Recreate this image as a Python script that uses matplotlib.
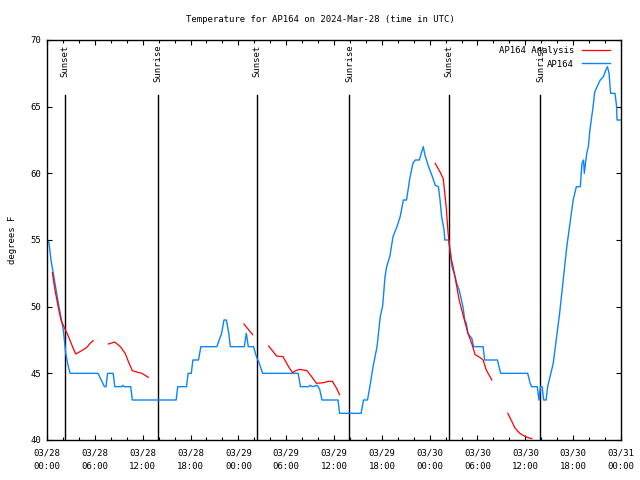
import numpy as np
import matplotlib
matplotlib.use("Agg")
import matplotlib.pyplot as plt
from matplotlib.ticker import MultipleLocator

# ---- data (hours since 2024-03-28 00:00 UTC) ----
obs_hours = [0, 0.25, 0.5, 1.0, 1.5, 2.05, 2.35, 2.6, 2.9, 6.4, 6.8, 7.2, 7.4, 7.6, 8.3, 8.5,
             9.4, 9.5, 9.7, 10.5, 10.7, 16.2, 16.4, 17.5, 17.7, 18.1, 18.3, 19.0, 19.3, 21.3,
             21.9, 22.2, 22.5, 22.8, 23.0, 24.75, 25.0, 25.25, 25.9, 26.3, 26.6, 27.05, 31.5,
             31.8, 32.8, 33.0, 33.3, 33.9, 34.2, 34.5, 36.5, 36.7, 39.4, 39.7, 40.2, 40.5, 40.9,
             41.4, 41.8, 42.1, 42.4, 42.6, 43.0, 43.4, 43.9, 44.3, 44.7, 45.1, 45.5, 45.9, 46.2,
             46.7, 47.2, 47.4, 47.8, 48.25, 48.7, 49.1, 49.3, 49.5, 49.8, 49.9, 50.4, 50.55, 50.8,
             51.2, 51.4, 51.7, 51.8, 52.2, 52.4, 52.6, 52.8, 53.3, 53.5, 54.7, 54.9, 56.5, 56.9,
             60.3, 60.6, 60.8, 61.5, 61.7, 61.9, 62.1, 62.3, 62.6, 62.8, 63.1, 63.5, 63.9, 64.3,
             64.8, 65.2, 65.6, 66.0, 66.4, 66.9, 67.1, 67.3, 67.4, 67.7, 67.9, 68.1, 68.5, 68.7,
             69.0, 69.4, 69.8, 70.1, 70.3, 70.5, 70.7, 71.25, 71.45, 71.5, 72.0]
obs_temps = [55, 54.8, 53.5, 51.75, 50, 48.25, 46.5, 45.7, 45, 45, 44.5, 44, 44, 45, 45, 44,
             44, 44.1, 44, 44, 43, 43, 44, 44, 45, 45, 46, 46, 47, 47,
             48, 49, 49, 48, 47, 47, 48, 47, 47, 46.2, 45.8, 45, 45,
             44, 44, 44.1, 44, 44.1, 43.8, 43, 43, 42, 42, 43, 43, 44, 45.5,
             47, 49.25, 50.05, 52.25, 53, 53.75, 55.25, 56, 56.75, 58, 58, 59.6, 60.75, 61,
             61, 62, 61.4, 60.6, 59.9, 59.1, 59, 58, 56.75, 55.75, 55, 55, 54.25, 53,
             52.25, 51.75, 51.25, 51, 49.9, 49, 48.75, 48, 47.6, 47, 47, 46, 46, 45,
             45, 44.25, 44, 44, 43, 44, 44, 43, 43, 44, 44.75, 45.75, 47.6, 49.5,
             52.3, 54.5, 56.25, 58, 59, 59, 60.75, 61, 60, 61.5, 62, 63.25, 65, 66.1,
             66.5, 67, 67.25, 67.75, 68, 67.5, 66, 66, 65, 64, 64]

ana_hours = [0.67, 1.0, 1.4, 1.75, 2.2, 2.7, 3.2, 3.6, 4.35, 5.0, 5.4, 5.8, np.nan,
             7.7, 8.5, 9.2, 9.8, 10.2, 10.7, 11.25, 11.9, 12.7, np.nan,
             24.7, 25.8, np.nan,
             27.8, 28.4, 28.8, 29.6, 30.3, 30.8, 31.2, 31.7, 32.6, 33.2, 33.8, 34.7, 35.3,
             35.8, 36.3, 36.7, np.nan,
             48.7, 49.3, 49.7, 49.9, 50.1, 50.3, 50.45, 50.7, 51.0, 51.4, 51.7, 52.0, 52.4,
             52.8, 53.3, 53.7, 54.3, 54.7, 55.1, 55.8, np.nan,
             57.8, 58.3, 58.7, 59.3, 60.0, 60.8]
ana_temps = [52.55, 51.25, 50, 49, 48.4, 47.75, 47, 46.45, 46.7, 46.95, 47.25, 47.45, np.nan,
             47.2, 47.35, 47, 46.5, 45.9, 45.2, 45.1, 45, 44.7, np.nan,
             48.7, 47.9, np.nan,
             47.05, 46.6, 46.3, 46.25, 45.5, 45.05, 45.2, 45.3, 45.2, 44.75, 44.25, 44.3, 44.4,
             44.4, 43.9, 43.4, np.nan,
             60.75, 60.1, 59.6, 58.5, 57.3, 55.6, 54.7, 53.6, 52.8, 51.5, 50.5, 49.8, 48.9,
             48, 47.2, 46.4, 46.2, 46, 45.25, 44.5, np.nan,
             42, 41.4, 40.9, 40.5, 40.25, 40.1]

sun_hours = [2.3, 13.97, 26.38, 37.93, 50.47, 61.9]
sun_labels = ["Sunset", "Sunrise", "Sunset", "Sunrise", "Sunset", "Sunrise"]

tick_hours = [0, 6, 12, 18, 24, 30, 36, 42, 48, 54, 60, 66, 72]
tick_labels = ["03/28\n00:00", "03/28\n06:00", "03/28\n12:00", "03/28\n18:00",
               "03/29\n00:00", "03/29\n06:00", "03/29\n12:00", "03/29\n18:00",
               "03/30\n00:00", "03/30\n06:00", "03/30\n12:00", "03/30\n18:00",
               "03/31\n00:00"]

FONT = "DejaVu Sans Mono"
FS = 6.5
plt.rcParams["font.family"] = FONT
plt.rcParams["font.size"] = FS

fig = plt.figure(figsize=(6.4, 4.8), dpi=100)
ax = fig.add_axes([47/640, 40/480, 574/640, 400/480])

ax.plot(ana_hours, ana_temps, color="#ff0000", lw=0.9, label="AP164 Analysis", zorder=3)
ax.plot(obs_hours, obs_temps, color="#0a84ff", lw=1.0, label="AP164", zorder=2)

line_top = (440 - 95) / 400
for h, lab in zip(sun_hours, sun_labels):
    ax.axvline(h, ymin=0, ymax=line_top, color="black", lw=1.0, zorder=1)
    ax.text(h, 69.65, lab, rotation=90, ha="center", va="top", fontsize=FS, family=FONT)

ax.set_xlim(0, 72)
ax.set_ylim(40, 70)
ax.set_xticks(tick_hours)
ax.set_xticklabels(tick_labels, linespacing=1.6)
ax.xaxis.set_minor_locator(MultipleLocator(2))
ax.set_yticks([40, 45, 50, 55, 60, 65, 70])
ax.tick_params(axis="both", which="major", direction="in", length=3.6, width=0.8,
               top=True, right=True, labelsize=FS, pad=6)
ax.tick_params(axis="x", which="minor", direction="in", length=2.2, width=0.8, top=True)
ax.tick_params(axis="y", pad=4)
for s in ax.spines.values():
    s.set_linewidth(1.0)

ax.set_ylabel("degrees F", fontsize=FS, labelpad=10)
fig.text(0.5, 1 - 19/480, "Temperature for AP164 on 2024-Mar-28 (time in UTC)",
         ha="center", va="center", fontsize=FS)

leg = ax.legend(loc="upper right", bbox_to_anchor=((610 - 47) / 574, (440 - 46) / 400),
                frameon=False, markerfirst=False, fontsize=FS,
                handlelength=3.1, handletextpad=0.9, labelspacing=0.5,
                borderaxespad=0.0, borderpad=0.0)

fig.savefig("out.png", dpi=100)
